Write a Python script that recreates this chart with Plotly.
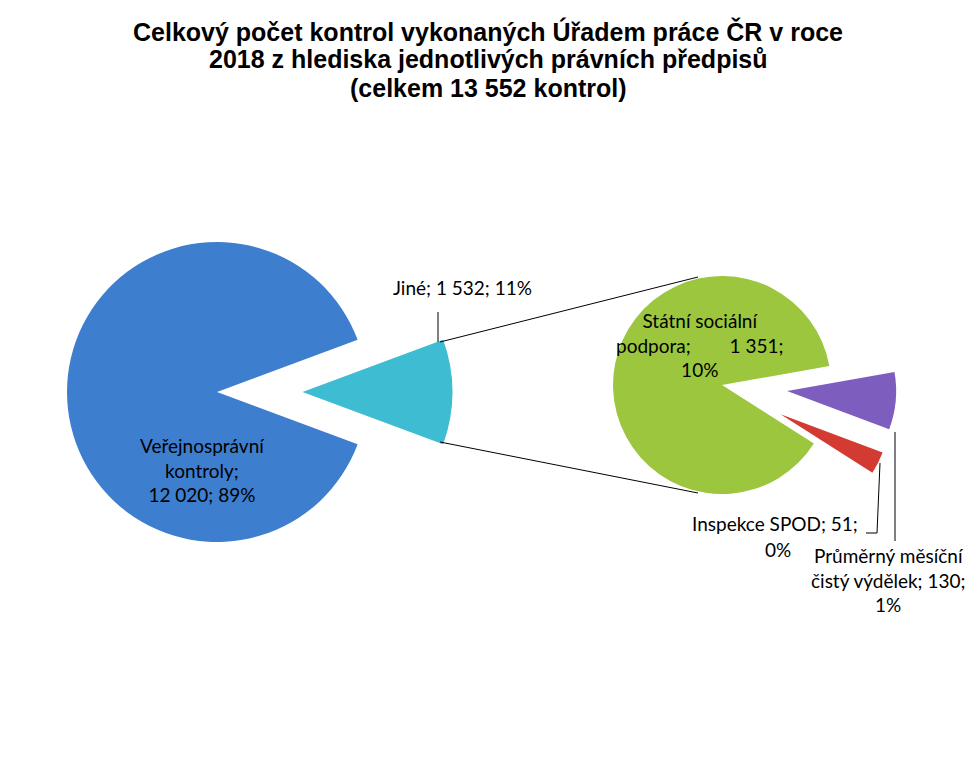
import plotly.graph_objects as go

# page offset (default body margin of the written html page)
OFF = 8
W, H = 980 - OFF, 770 - OFF

# ---- data ----
title_lines = [
    "Celkový počet kontrol vykonaných Úřadem práce ČR v roce",
    "2018 z hlediska jednotlivých právních předpisů",
    "(celkem 13 552 kontrol)",
]
main_labels = ["Jiné", "Veřejnosprávní kontroly"]
main_values = [1532, 12020]
sub_labels = ["Průměrný měsíční čistý výdělek", "Inspekce SPOD", "Státní sociální podpora"]
sub_values = [130, 51, 1351]

total = sum(main_values)

BLUE = "#3D7ECF"
CYAN = "#3EBDD2"
GREEN = "#9CC63E"
PURPLE = "#7D5DBE"
RED = "#D33B32"
CLEAR = "rgba(0,0,0,0)"

FONT = "Lato, 'Open Sans', sans-serif"
TITLE_FONT = "'Liberation Sans', Arial, sans-serif"


def fmt(v):
    return f"{v:,}".replace(",", " ")


def pct(v):
    return f"{round(100 * v / total)}%"


def px(x):
    return (x - OFF) / W


def py(y):
    return 1 - (y - OFF) / H


def dom(cx, cy, half):
    return dict(x=[px(cx - half), px(cx + half)], y=[py(cy + half), py(cy - half)])


# geometry (pixels in the 980x770 window)
L_CX, L_CY, L_R = 217, 392, 150
JINE_SHIFT = 0.57 * L_R
R_CX, R_CY, R_R = 722, 385, 109
R_PULL = 0.6

main_frac = main_values[0] / total
main_rot = 90 - main_frac * 360 / 2

fig = go.Figure()

# main pie: large slice
fig.add_trace(go.Pie(
    labels=main_labels, values=main_values, sort=False, direction="clockwise",
    rotation=main_rot, marker=dict(colors=[CLEAR, BLUE], line=dict(width=0)),
    textinfo="none", hoverinfo="label+value+percent", showlegend=False,
    domain=dom(L_CX, L_CY, L_R),
))
# main pie: exploded "Jiné" slice
fig.add_trace(go.Pie(
    labels=main_labels, values=main_values, sort=False, direction="clockwise",
    rotation=main_rot, marker=dict(colors=[CYAN, CLEAR], line=dict(width=0)),
    textinfo="none", hoverinfo="label+value+percent", showlegend=False,
    domain=dom(L_CX + JINE_SHIFT, L_CY, L_R),
))
# secondary pie
fig.add_trace(go.Pie(
    labels=sub_labels, values=sub_values, sort=False, direction="clockwise",
    rotation=80, pull=[R_PULL, R_PULL, 0],
    marker=dict(colors=[PURPLE, RED, GREEN], line=dict(width=0)),
    textinfo="none", hoverinfo="label+value", showlegend=False,
    domain=dom(R_CX, R_CY, R_R * (1 + R_PULL)),
))

shapes = []


def line(x0, y0, x1, y1):
    shapes.append(dict(type="line", xref="paper", yref="paper",
                       x0=px(x0), y0=py(y0), x1=px(x1), y1=py(y1),
                       line=dict(color="#000000", width=1)))


# connector lines between pies
line(440, 342, 698, 277)
line(440, 442, 698, 493)
# leader lines
line(438, 342, 438, 312)
line(880, 463, 877, 533)
line(877, 533, 866, 533)
line(895, 432, 895, 541)

annotations = []


def ann(text, x, y, size=19, bold=False, xanchor="center"):
    annotations.append(dict(
        text=f"<b>{text}</b>" if bold else text, x=px(x), y=py(y),
        xref="paper", yref="paper", showarrow=False, xanchor=xanchor, yanchor="middle",
        font=dict(family=TITLE_FONT if bold else FONT, size=size, color="#000000"),
        align="center",
    ))


# title
for i, t in enumerate(title_lines):
    ann(t, 488, 31 + i * 28.5, size=25, bold=True)

# labels
ann(f"{main_labels[0]}; {fmt(main_values[0])}; {pct(main_values[0])}", 462, 287)
ann("Veřejnosprávní<br>kontroly;<br>" + f"{fmt(main_values[1])}; {pct(main_values[1])}", 202, 470)
ann("Státní sociální<br>podpora;" + "\u00a0" * 8 + f"{fmt(sub_values[2])};<br>{pct(sub_values[2])}", 700, 345)
ann(f"{sub_labels[1]}; {fmt(sub_values[1])};", 860, 523, xanchor="right")
ann(pct(sub_values[1]), 778, 549)
ann(f"Průměrný měsíční<br>čistý výdělek; {fmt(sub_values[0])};<br>{pct(sub_values[0])}", 888, 580)

fig.update_layout(
    width=W, height=H,
    margin=dict(l=0, r=0, t=0, b=0),
    paper_bgcolor="white", plot_bgcolor="white",
    shapes=shapes, annotations=annotations,
    showlegend=False,
)

fig.write_html("out.html")
